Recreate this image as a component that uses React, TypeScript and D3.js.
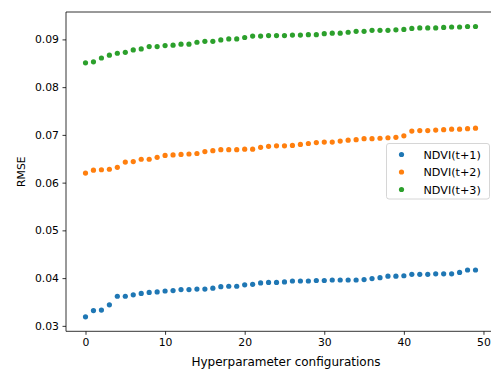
import React, { useEffect, useRef } from 'react';
import * as d3 from 'd3';

const configs = d3.range(50);

const ndviT1 = [
  0.0319, 0.0332, 0.0333, 0.0344, 0.0362, 0.0362, 0.0365, 0.0368, 0.0370, 0.0371,
  0.0373, 0.0374, 0.0376, 0.0376, 0.0377, 0.0377, 0.0379, 0.0382, 0.0383, 0.0383,
  0.0386, 0.0387, 0.0390, 0.0391, 0.0391, 0.0392, 0.0394, 0.0394, 0.0394, 0.0395,
  0.0395, 0.0396, 0.0396, 0.0396, 0.0396, 0.0397, 0.0399, 0.0401, 0.0404, 0.0404,
  0.0405, 0.0408, 0.0408, 0.0408, 0.0409, 0.0409, 0.0409, 0.0412, 0.0417, 0.0417,
];

const ndviT2 = [
  0.0620, 0.0626, 0.0627, 0.0628, 0.0632, 0.0643, 0.0644, 0.0649, 0.0649, 0.0653,
  0.0657, 0.0658, 0.0659, 0.0660, 0.0661, 0.0665, 0.0667, 0.0669, 0.0669, 0.0669,
  0.0670, 0.0670, 0.0674, 0.0676, 0.0677, 0.0677, 0.0678, 0.0680, 0.0682, 0.0684,
  0.0685, 0.0685, 0.0687, 0.0689, 0.0690, 0.0692, 0.0692, 0.0693, 0.0694, 0.0695,
  0.0698, 0.0708, 0.0709, 0.0709, 0.0710, 0.0711, 0.0712, 0.0712, 0.0713, 0.0714,
];

const ndviT3 = [
  0.0851, 0.0853, 0.0861, 0.0867, 0.0871, 0.0873, 0.0878, 0.0880, 0.0885, 0.0885,
  0.0887, 0.0888, 0.0890, 0.0890, 0.0894, 0.0896, 0.0896, 0.0899, 0.0901, 0.0901,
  0.0904, 0.0907, 0.0907, 0.0908, 0.0908, 0.0908, 0.0909, 0.0909, 0.0910, 0.0910,
  0.0912, 0.0913, 0.0913, 0.0915, 0.0917, 0.0917, 0.0919, 0.0919, 0.0919, 0.0920,
  0.0921, 0.0923, 0.0924, 0.0924, 0.0924, 0.0925, 0.0926, 0.0926, 0.0927, 0.0927,
];

const seriesNames = ['NDVI(t+1)', 'NDVI(t+2)', 'NDVI(t+3)'];
const seriesColors = ['#1f77b4', '#ff7f0e', '#2ca02c'];
const xTicks = [0, 10, 20, 30, 40, 50];
const yTicks = [0.03, 0.04, 0.05, 0.06, 0.07, 0.08, 0.09];

const width = 491;
const height = 369;
const font = 'DejaVu Sans, sans-serif';

const App = () => {
  const svgRef = useRef<SVGSVGElement | null>(null);

  useEffect(() => {
    const svg = d3.select(svgRef.current);
    svg.selectAll('*').remove();

    const left = 66;
    const right = 495;
    const top = 12;
    const bottom = 331.3;

    const all = [...ndviT1, ...ndviT2, ...ndviT3];
    const yMin = d3.min(all) as number;
    const yMax = d3.max(all) as number;
    const yPad = (yMax - yMin) * 0.05;

    const x = d3.scaleLinear().domain([-2.45, 51.45]).range([left, right]);
    const y = d3.scaleLinear().domain([yMin - yPad, yMax + yPad]).range([bottom, top]);

    const series = [ndviT1, ndviT2, ndviT3];
    series.forEach((vals, s) => {
      svg.append('g')
        .selectAll('circle')
        .data(vals)
        .enter()
        .append('circle')
        .attr('cx', (d, i) => x(configs[i]))
        .attr('cy', (d) => y(d))
        .attr('r', 2.6)
        .attr('fill', seriesColors[s]);
    });

    const xAxis = d3.axisBottom(x).tickValues(xTicks).tickSize(3.5).tickPadding(3.5)
      .tickFormat(d3.format('d'));
    const gx = svg.append('g')
      .attr('transform', `translate(0, ${bottom})`)
      .call(xAxis);
    gx.select('.domain').remove();

    const yAxis = d3.axisLeft(y).tickValues(yTicks).tickSize(3.5).tickPadding(3.5)
      .tickFormat(d3.format('.2f'));
    const gy = svg.append('g')
      .attr('transform', `translate(${left}, 0)`)
      .call(yAxis);
    gy.select('.domain').remove();

    [gx, gy].forEach((g) => {
      g.selectAll('text')
        .attr('font-family', font)
        .attr('font-size', 10.8)
        .attr('fill', '#000');
      g.selectAll('line').attr('stroke', '#000').attr('stroke-width', 0.8);
    });

    // spines
    svg.append('line').attr('x1', left).attr('x2', left).attr('y1', top).attr('y2', bottom)
      .attr('stroke', '#000').attr('stroke-width', 0.8);
    svg.append('line').attr('x1', left).attr('x2', right).attr('y1', bottom).attr('y2', bottom)
      .attr('stroke', '#000').attr('stroke-width', 0.8);
    svg.append('line').attr('x1', left).attr('x2', right).attr('y1', top).attr('y2', top)
      .attr('stroke', '#000').attr('stroke-width', 0.8);
    svg.append('line').attr('x1', right).attr('x2', right).attr('y1', top).attr('y2', bottom)
      .attr('stroke', '#000').attr('stroke-width', 0.8);

    svg.append('text')
      .attr('x', 286)
      .attr('y', 365.5)
      .attr('text-anchor', 'middle')
      .attr('font-family', font)
      .attr('font-size', 12)
      .text('Hyperparameter configurations');

    svg.append('text')
      .attr('transform', `translate(25, ${(top + bottom) / 2}) rotate(-90)`)
      .attr('text-anchor', 'middle')
      .attr('font-family', font)
      .attr('font-size', 10.8)
      .text('RMSE');

    // legend
    const legend = svg.append('g').attr('transform', 'translate(386.5, 143.5)');
    legend.append('rect')
      .attr('width', 103)
      .attr('height', 55.5)
      .attr('rx', 2.5)
      .attr('fill', 'rgba(255,255,255,0.8)')
      .attr('stroke', '#cccccc')
      .attr('stroke-width', 0.8);
    seriesNames.forEach((name, i) => {
      const row = legend.append('g').attr('transform', `translate(0, ${11 + i * 17.5})`);
      row.append('circle').attr('cx', 15).attr('cy', 0).attr('r', 2.6).attr('fill', seriesColors[i]);
      row.append('text')
        .attr('x', 37)
        .attr('y', 4)
        .attr('font-family', font)
        .attr('font-size', 11.2)
        .text(name);
    });
  }, []);

  return (
    <svg
      ref={svgRef}
      width={width}
      height={height}
      style={{ position: 'absolute', left: 0, top: 0, background: '#fff' }}
    />
  );
};

export default App;
